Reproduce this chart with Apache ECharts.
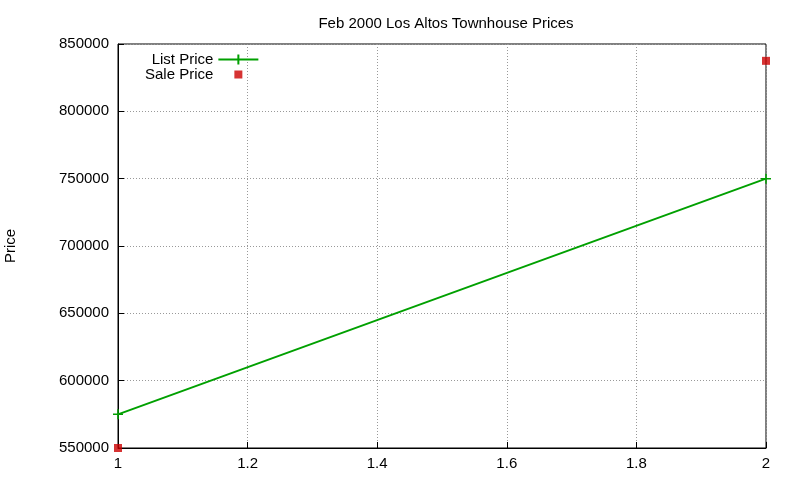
<!DOCTYPE html>
<html>
<head>
<meta charset="utf-8">
<script src="https://cdn.jsdelivr.net/npm/echarts@6/dist/echarts.min.js"></script>
<style>html,body{margin:0;padding:0;background:#fff}#chart{width:800px;height:480px}</style>
</head>
<body>
<div id="chart"></div>
<script>
var xValues = [1, 2];
var listPrice = [575000, 750000];
var salePrice = [550000, 837500];

var chart = echarts.init(document.getElementById('chart'));
var font = 'Liberation Sans, Arial, sans-serif';
var dotted = { color: '#999', type: [1, 2], width: 1 };
chart.setOption({
    animation: false,
    title: {
        text: 'Feb 2000 Los Altos Townhouse Prices',
        left: 441, top: 11, textAlign: 'center',
        textStyle: { fontFamily: font, fontSize: 15, fontWeight: 'normal', color: '#000' }
    },
    grid: { left: 118, right: 34, top: 44, bottom: 32, show: true, borderColor: '#000', borderWidth: 1, outerBoundsMode: 'none', containLabel: false },
    xAxis: {
        type: 'value', min: 1, max: 2, interval: 0.2,
        axisLine: { lineStyle: { color: '#000' } },
        axisTick: { inside: true, length: 6, lineStyle: { color: '#000' } },
        axisLabel: { color: '#000', fontFamily: font, fontSize: 15, margin: 8 },
        splitLine: { show: true, lineStyle: dotted }
    },
    yAxis: {
        type: 'value', min: 550000, max: 850000, interval: 50000,
        name: 'Price', nameLocation: 'middle', nameGap: 100, nameRotate: 90,
        nameTextStyle: { color: '#000', fontFamily: font, fontSize: 15 },
        axisLine: { show: true, lineStyle: { color: '#000' } },
        axisTick: { inside: true, length: 6, lineStyle: { color: '#000' } },
        axisLabel: { color: '#000', fontFamily: font, fontSize: 15, margin: 9, formatter: function (v) { return String(v); } },
        splitLine: { show: true, lineStyle: dotted }
    },
    legend: {
        orient: 'vertical', left: 140, top: 47, itemGap: 0, align: 'right',
        itemWidth: 40, itemHeight: 10,
        textStyle: { fontFamily: font, fontSize: 15, color: '#000' },
        data: [
            { name: 'List Price', icon: 'path://M0,5L40,5M20,0L20,10' },
            { name: 'Sale Price', icon: 'path://M0,5L0,5M16,1L24,1L24,9L16,9ZM40,5L40,5M0,0L0,0M40,10L40,10' }
        ]
    },
    series: [
        {
            name: 'List Price', type: 'line',
            data: xValues.map(function (x, i) { return [x, listPrice[i]]; }),
            symbol: 'path://M0,5L10,5M5,0L5,10', symbolSize: 10,
            itemStyle: { color: '#00a000', borderColor: '#00a000', borderWidth: 1.5 },
            lineStyle: { color: '#00a000', width: 2 }
        },
        {
            name: 'Sale Price', type: 'scatter',
            data: xValues.map(function (x, i) { return [x, salePrice[i]]; }),
            symbol: 'rect', symbolSize: 8,
            itemStyle: { color: '#cc0000' }
        }
    ]
});
</script>
</body>
</html>
